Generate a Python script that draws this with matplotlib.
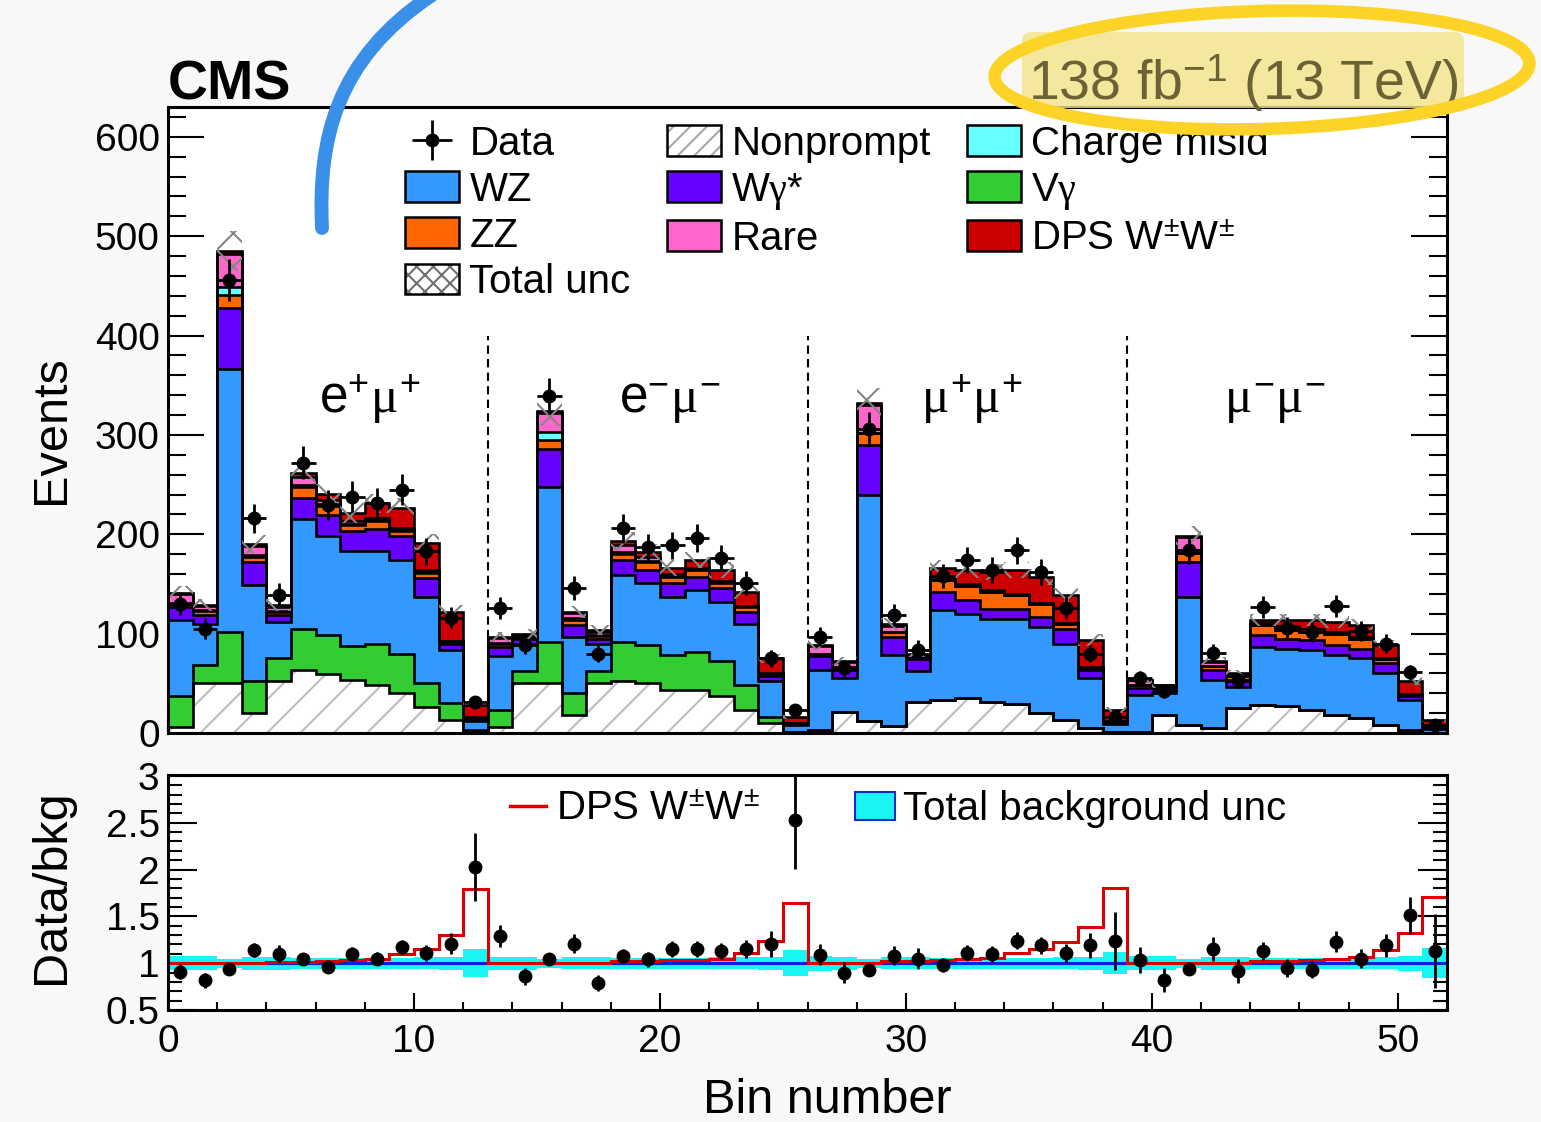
import numpy as np
import matplotlib
matplotlib.use("Agg")
import matplotlib.pyplot as plt
from matplotlib.patches import Patch, Ellipse, FancyBboxPatch, PathPatch
from matplotlib.path import Path
from matplotlib.lines import Line2D
from matplotlib.legend_handler import HandlerTuple
from matplotlib.ticker import MultipleLocator, FuncFormatter

plt.rcParams['font.family'] = ['Liberation Sans', 'DejaVu Sans']
plt.rcParams['mathtext.fontset'] = 'custom'
plt.rcParams['mathtext.rm'] = 'Liberation Sans'
plt.rcParams['mathtext.it'] = 'Liberation Serif'
plt.rcParams['mathtext.bf'] = 'Liberation Sans:bold'
plt.rcParams['hatch.linewidth'] = 1.5

# ---------------- data: 52 bins, four channels of 13 bins ----------------
channels = [r'e$^{+}\mu^{+}$', r'e$^{-}\mu^{-}$', r'$\mu^{+}\mu^{+}$', r'$\mu^{-}\mu^{-}$']
channel_pos = [8.2, 20.4, 32.7, 45.0]

nonprompt = [6, 50, 50, 20, 52, 63, 59, 53, 48, 40, 26, 13, 2,
             6, 50, 50, 18, 50, 52, 50, 43, 43, 37, 23, 10, 1,
             3, 21, 12, 7, 31, 33, 35, 31, 29, 20, 13, 5, 1,
             1, 18, 8, 5, 25, 28, 27, 23, 18, 15, 8, 3, 0.5]
vgamma = [31, 18, 52, 32, 23, 42, 40, 35, 42, 40, 24, 17, 1,
          17, 12, 42, 22, 12, 40, 39, 35, 39, 35, 25, 6, 0.5,
          0, 0, 0, 0, 0, 0, 0, 0, 0, 0, 0, 0, 0,
          0, 0, 0, 0, 0, 0, 0, 0, 0, 0, 0, 0, 0]
wz = [77, 42, 264, 97, 37, 110, 99, 95, 93, 94, 87, 54, 9,
      54, 28, 156, 57, 28, 67, 62, 59, 62, 60, 62, 36, 7,
      60, 34, 228, 72, 31, 91, 85, 84, 86, 87, 77, 50, 8.5,
      37, 22, 129, 48, 21, 59, 58, 61, 61, 60, 52, 30, 4]
wgstar = [13, 9, 62, 23, 7, 21, 21, 20, 22, 24, 19, 6, 1.5,
          10, 5, 38, 12, 5, 15, 13, 14, 13, 14, 12, 5, 0.5,
          14, 8, 50, 18, 12, 18, 14, 10, 10, 10, 15, 8, 1,
          7, 5, 35, 10, 6, 12, 10, 10, 10, 10, 10, 4, 1]
zz = [3, 4, 13, 5, 3, 12, 9, 6, 8, 5, 5, 2, 1,
      3, 2, 9, 5, 3, 6, 8, 6, 7, 5, 5, 2, 0.5,
      3, 3, 12, 5, 2, 12, 14, 17, 14, 13, 5, 2, 1,
      3, 1, 9, 4, 5, 10, 9, 8, 11, 10, 4, 1, 0.5]
chmisid = [1, 1, 8, 2, 1, 2, 2, 1, 1, 1, 1, 0.5, 0.3,
           1, 1, 8, 2, 1, 2, 1, 1, 1, 1, 0.5, 0.5, 0.2,
           0, 0, 0, 0, 0, 0, 0, 0, 0, 0, 0, 0, 0,
           0, 0, 0, 0, 0, 0, 0, 0, 0, 0, 0, 0, 0]
rare = [9, 4, 33, 9, 4, 8, 4, 3, 2, 2, 2, 0.5, 0.8,
        5, 1, 19, 5, 3, 7, 4, 2, 1, 0.5, 0.5, 0.5, 0.3,
        8, 5, 28, 6, 2, 3, 2, 2, 1, 1, 1, 1, 0.5,
        5, 2, 16, 4, 2.5, 2, 4, 3, 2, 2, 1, 1, 0.5]
dps = [1, 1, 3, 2, 2, 4, 7, 8, 15, 20, 27, 29, 12.4,
       1, 1, 2, 1, 2, 4, 5, 6, 8, 11.5, 14, 15, 6.4,
       1, 1, 2, 2, 2, 9, 14, 18, 24, 26, 28, 28, 11,
       0.5, 0.5, 1, 1, 0.5, 3, 6, 9, 10, 12, 14, 13, 6.5]
total_unc = [7, 6, 20, 9, 6, 11, 10, 10, 10, 10, 9, 7, 3,
             5, 5, 15, 6, 5, 9, 8, 8, 8, 8, 7, 5, 2,
             5, 4, 15, 6, 4, 8, 8, 8, 8, 8, 7, 6, 3,
             3, 3, 10, 4, 3, 6, 6, 6, 6, 6, 5, 4, 2]
data = [130, 105, 456, 216, 139, 272, 229, 238, 231, 245, 183, 116, 31,
        126, 89, 339, 146, 80, 206, 187, 189, 196, 176, 151, 75, 23,
        97, 65, 306, 119, 84, 158, 174, 164, 184, 162, 126, 80, 16,
        55, 42, 184, 81, 53, 127, 106, 102, 128, 103, 90, 61, 8]

# ratio panel
ratio = [0.91, 0.82, 0.94, 1.14, 1.10, 1.04, 0.96, 1.10, 1.05, 1.17, 1.11, 1.21, 2.03,
         1.29, 0.86, 1.04, 1.21, 0.79, 1.08, 1.04, 1.15, 1.15, 1.13, 1.15, 1.20, 2.53,
         1.09, 0.90, 0.93, 1.08, 1.05, 0.98, 1.11, 1.10, 1.24, 1.19, 1.11, 1.19, 1.24,
         1.03, 0.82, 0.94, 1.15, 0.92, 1.13, 0.95, 0.93, 1.23, 1.05, 1.19, 1.51, 1.13]
dps_ratio = [1.007, 1.007, 1.007, 1.007, 1.01, 1.01, 1.02, 1.03, 1.05, 1.10, 1.15, 1.30, 1.79,
             1.007, 1.007, 1.007, 1.007, 1.007, 1.02, 1.02, 1.03, 1.03, 1.05, 1.11, 1.24, 1.64,
             1.007, 1.007, 1.007, 1.02, 1.02, 1.03, 1.04, 1.06, 1.11, 1.15, 1.23, 1.39, 1.80,
             1.007, 1.007, 1.007, 1.007, 1.007, 1.02, 1.025, 1.03, 1.045, 1.07, 1.14, 1.32, 1.71]
bkg_unc_rel = [0.075, 0.075, 0.05, 0.07, 0.07, 0.06, 0.06, 0.06, 0.06, 0.06, 0.065, 0.07, 0.15,
               0.07, 0.07, 0.05, 0.065, 0.065, 0.06, 0.06, 0.06, 0.06, 0.065, 0.065, 0.07, 0.14,
               0.08, 0.07, 0.05, 0.065, 0.065, 0.06, 0.06, 0.06, 0.06, 0.06, 0.065, 0.07, 0.12,
               0.075, 0.075, 0.05, 0.07, 0.07, 0.06, 0.06, 0.06, 0.06, 0.06, 0.065, 0.08, 0.16]

# stack order (bottom to top), labels and colours
stack = [
    (nonprompt, 'Nonprompt', 'white'),
    (vgamma, r'V$\gamma$', '#33cc33'),
    (wz, 'WZ', '#3399ff'),
    (wgstar, r'W$\gamma$*', '#6600ff'),
    (zz, 'ZZ', '#ff6600'),
    (chmisid, 'Charge misid', '#66ffff'),
    (rare, 'Rare', '#ff66cc'),
    (dps, r'DPS W$^{\pm}$W$^{\pm}$', '#cc0000'),
]

nbins = len(data)
edges = np.arange(nbins + 1)
centers = edges[:-1] + 0.5

# ---------------- figure layout (pixel based) ----------------
W, H, DPI = 1541, 1122, 100
fig = plt.figure(figsize=(W / DPI, H / DPI), dpi=DPI, facecolor='#f8f8f8')


def px_box(left, top, right, bottom):
    return [left / W, 1 - bottom / H, (right - left) / W, (bottom - top) / H]


ax = fig.add_axes(px_box(168, 107, 1447, 733))
rax = fig.add_axes(px_box(168, 775, 1447, 1010))
for a in (ax, rax):
    a.set_facecolor('white')

# ---------------- stacked histogram ----------------
cum = np.zeros(nbins)
handles = {}
for vals, label, col in stack:
    vals = np.asarray(vals, float)
    top = cum + vals
    if label == 'Nonprompt':
        ax.stairs(top, edges, baseline=cum, fill=True, facecolor='white',
                  edgecolor='#bdbdbd', hatch='/', linewidth=0, zorder=2)
        handles[label] = (Patch(facecolor='white', edgecolor='#a8a8a8', hatch='//', linewidth=0),
                          Patch(facecolor='none', edgecolor='k', linewidth=1.8))
    else:
        ax.stairs(top, edges, baseline=cum, fill=True, facecolor=col,
                  edgecolor='none', linewidth=0, zorder=2)
        handles[label] = Patch(facecolor=col, edgecolor='k', linewidth=1.8)
    cum = top
total = cum

cum = np.zeros(nbins)
for vals, label, col in stack:
    cum = cum + np.asarray(vals, float)
    ax.stairs(cum, edges, baseline=0, fill=False, edgecolor='k', linewidth=1.9, zorder=3)

# total uncertainty band
unc = np.asarray(total_unc, float)
ax.stairs(total + unc, edges, baseline=total - unc, fill=True, facecolor='none',
          edgecolor='#858585', hatch='x', linewidth=0, zorder=4)
handles['Total unc'] = (Patch(facecolor='none', edgecolor='#707070', hatch='xx', linewidth=0),
                        Patch(facecolor='none', edgecolor='k', linewidth=1.8))

# data with Poisson uncertainties
data_arr = np.asarray(data, float)
data_err = np.sqrt(data_arr)
eb = ax.errorbar(centers, data_arr, xerr=0.5, yerr=data_err, fmt='o', color='k',
                 ms=9, elinewidth=2, capsize=0, zorder=6)
handles['Data'] = eb

# channel separators and labels
ax.vlines([13, 26, 39], 0, 400, colors='k', linestyles=(0, (4, 2.5)), linewidth=1.5, zorder=1)
for xpos, name in zip(channel_pos, channels):
    ax.text(xpos, 322, name, fontsize=37, ha='center', va='baseline', zorder=7)

ax.set_xlim(0, nbins)
ax.set_ylim(0, 630)

# legend for the main panel (column-wise order)
order = ['Data', 'WZ', 'ZZ', 'Total unc', 'Nonprompt', r'W$\gamma$*', 'Rare',
         'Charge misid', r'V$\gamma$', r'DPS W$^{\pm}$W$^{\pm}$']
leg = ax.legend([handles[k] for k in order], order, ncol=3, loc='upper left',
                bbox_to_anchor=((405 - 168) / 1279, 0.972), frameon=False,
                fontsize=29, handlelength=1.35, handleheight=0.78,
                handletextpad=0.25, columnspacing=0.9, labelspacing=0.2,
                borderpad=0, borderaxespad=0,
                handler_map={tuple: HandlerTuple(ndivide=1, pad=0)})
leg.set_zorder(8)

# ---------------- ratio panel ----------------
band = np.asarray(bkg_unc_rel, float)
rax.stairs(1 + band, edges, baseline=1 - band, fill=True, facecolor='#19f5f5',
           edgecolor='none', linewidth=0, zorder=2)
rax.axhline(1.0, color='#0a1ee0', linewidth=2.2, zorder=3)
rax.stairs(np.asarray(dps_ratio), edges, baseline=None, fill=False,
           edgecolor='#dd0000', linewidth=2.2, zorder=4)
ratio_arr = np.asarray(ratio, float)
rax.errorbar(centers, ratio_arr, yerr=ratio_arr * data_err / data_arr, fmt='o',
             color='k', ms=9, elinewidth=2, capsize=0, zorder=6)
rax.set_xlim(0, nbins)
rax.set_ylim(0.5, 3.01)

l1 = rax.legend([Line2D([], [], color='#dd0000', linewidth=2.5)], [r'DPS W$^{\pm}$W$^{\pm}$'],
                loc='upper left', bbox_to_anchor=((510 - 168) / 1279, 0.935), frameon=False,
                fontsize=29, handlelength=0.9, handletextpad=0.25, borderpad=0, borderaxespad=0)
rax.add_artist(l1)
rax.legend([Patch(facecolor='#19f5f5', edgecolor='#1a28d0', linewidth=1.5)], ['Total background unc'],
           loc='upper left', bbox_to_anchor=((855 - 168) / 1279, 0.935), frameon=False,
           fontsize=29, handlelength=1.0, handleheight=0.7, handletextpad=0.2,
           borderpad=0, borderaxespad=0)

# ---------------- axes styling ----------------
for a in (ax, rax):
    for s in a.spines.values():
        s.set_linewidth(2.2)
        s.set_zorder(9)
    a.tick_params(which='both', direction='in', right=True, top=False, width=1.5,
                  labelsize=28, zorder=9)
    a.xaxis.set_major_locator(MultipleLocator(10))
    a.xaxis.set_minor_locator(MultipleLocator(2))

ax.yaxis.set_major_locator(MultipleLocator(100))
ax.yaxis.set_minor_locator(MultipleLocator(20))
ax.tick_params(axis='y', which='major', length=26, pad=6)
ax.tick_params(axis='y', which='minor', length=13)
ax.tick_params(axis='x', which='major', length=12, labelbottom=False)
ax.tick_params(axis='x', which='minor', length=6)

rax.yaxis.set_major_locator(MultipleLocator(0.5))
rax.yaxis.set_minor_locator(MultipleLocator(0.1))
rax.yaxis.set_major_formatter(FuncFormatter(lambda v, p: f'{v:g}'))
rax.tick_params(axis='y', which='major', length=21, pad=6)
rax.tick_params(axis='y', which='minor', length=10)
rax.tick_params(axis='x', which='major', length=12, pad=10)
rax.tick_params(axis='x', which='minor', length=6)

fig.text(52 / W, 1 - 430 / H, 'Events', rotation=90, ha='center', va='center', fontsize=35)
fig.text(52 / W, 1 - 887 / H, 'Data/bkg', rotation=90, ha='center', va='center', fontsize=35)
fig.text(827 / W, 1 - 1113 / H, 'Bin number', ha='center', va='baseline', fontsize=35)
fig.text(168 / W, 1 - 100 / H, 'CMS', ha='left', va='baseline', fontsize=40, fontweight='bold')

# ---------------- hand-drawn overlay marks ----------------
ov = fig.add_axes([0, 0, 1, 1], zorder=20)
ov.set_xlim(0, W)
ov.set_ylim(H, 0)
ov.axis('off')
ov.patch.set_alpha(0)

ov.add_patch(FancyBboxPatch((1022, 32), 442, 76, boxstyle='round,pad=0,rounding_size=10',
                            facecolor='#f4e488', edgecolor='none', alpha=0.8, zorder=1))
ov.text(1458, 100, r'138 fb$^{-1}$ (13 TeV)', ha='right', va='baseline', fontsize=40,
        color='#6b6235', zorder=2)
ov.add_patch(Ellipse((1262, 70), width=535, height=118, angle=-1.5, fill=False,
                     edgecolor='#fdd328', linewidth=9, zorder=3))

stroke = Path([(322, 228), (318, 140), (335, 60), (432, -5)],
              [Path.MOVETO, Path.CURVE4, Path.CURVE4, Path.CURVE4])
ov.add_patch(PathPatch(stroke, fill=False, edgecolor='#3a8fe8', linewidth=10,
                       capstyle='round', zorder=4))

fig.savefig('out.png', dpi=DPI, facecolor=fig.get_facecolor())
